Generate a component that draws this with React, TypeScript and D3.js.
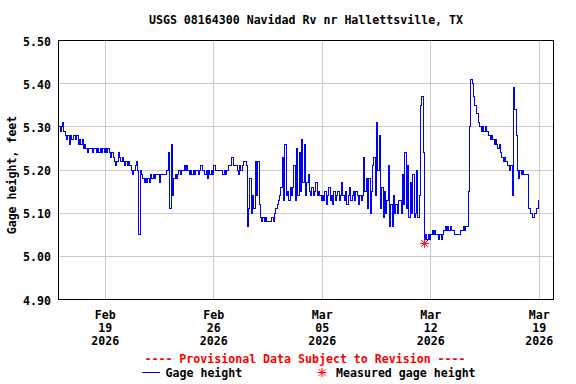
import * as d3 from "d3";

const TITLE = "USGS 08164300 Navidad Rv nr Hallettsville, TX";
const Y_LABEL = "Gage height, feet";
const PROVISIONAL = "---- Provisional Data Subject to Revision ----";
const LEGEND_LINE = "Gage height";
const LEGEND_STAR = "Measured gage height";

// gage height (ft), one reading every 2 hours starting Feb 16 2026 00:00
const START = new Date(2026, 1, 16, 0, 0);
const STEP_HOURS = 2;

const feb16to22 = [
  5.30, 5.29, 5.30, 5.31, 5.29, 5.28, 5.27, 5.28, 5.26, 5.28, 5.27, 5.28,
  5.28, 5.27, 5.28, 5.26, 5.27, 5.26, 5.27, 5.25, 5.26, 5.25, 5.24, 5.25,
  5.25, 5.25, 5.24, 5.25, 5.25, 5.24, 5.25, 5.24, 5.25, 5.24, 5.25, 5.24,
  5.25, 5.24, 5.25, 5.24, 5.23, 5.24, 5.23, 5.22, 5.21, 5.22, 5.24, 5.23,
  5.22, 5.23, 5.22, 5.21, 5.22, 5.21, 5.22, 5.21, 5.20, 5.19, 5.20, 5.21,
  5.22, 5.20, 5.05, 5.20, 5.19, 5.18, 5.17, 5.18, 5.17, 5.18, 5.17, 5.19,
  5.18, 5.19, 5.18, 5.19, 5.19, 5.19, 5.17, 5.19, 5.19, 5.19, 5.19, 5.20,
];
const feb23toMar01 = [
  5.20, 5.24, 5.11, 5.26, 5.14, 5.18, 5.19, 5.18, 5.19, 5.20, 5.19, 5.20,
  5.20, 5.21, 5.20, 5.21, 5.20, 5.19, 5.20, 5.19, 5.20, 5.19, 5.20, 5.20,
  5.19, 5.20, 5.21, 5.20, 5.20, 5.19, 5.20, 5.18, 5.20, 5.19, 5.20, 5.19,
  5.21, 5.20, 5.20, 5.20, 5.20, 5.20, 5.20, 5.19, 5.20, 5.19, 5.20, 5.21,
  5.21, 5.21, 5.23, 5.21, 5.21, 5.21, 5.20, 5.19, 5.21, 5.20, 5.21, 5.22,
  5.22, 5.21, 5.07, 5.11, 5.18, 5.10, 5.14, 5.11, 5.22, 5.14, 5.22, 5.12,
  5.09, 5.08, 5.09, 5.08, 5.09, 5.08, 5.08, 5.08, 5.08, 5.09, 5.08, 5.10,
];
const mar02to08 = [
  5.11, 5.12, 5.13, 5.14, 5.16, 5.23, 5.13, 5.26, 5.14, 5.15, 5.13, 5.16,
  5.14, 5.16, 5.21, 5.13, 5.25, 5.14, 5.24, 5.15, 5.27, 5.17, 5.26, 5.14,
  5.17, 5.19, 5.15, 5.14, 5.16, 5.14, 5.15, 5.17, 5.14, 5.15, 5.14, 5.13,
  5.14, 5.13, 5.15, 5.12, 5.14, 5.16, 5.13, 5.14, 5.12, 5.15, 5.13, 5.14,
  5.15, 5.13, 5.14, 5.17, 5.14, 5.13, 5.15, 5.12, 5.14, 5.16, 5.13, 5.14,
  5.15, 5.13, 5.15, 5.14, 5.12, 5.14, 5.13, 5.14, 5.23, 5.15, 5.18, 5.11,
  5.18, 5.10, 5.15, 5.21, 5.23, 5.14, 5.31, 5.20, 5.28, 5.11, 5.16, 5.09,
];
const mar09to15 = [
  5.15, 5.10, 5.13, 5.21, 5.07, 5.12, 5.07, 5.14, 5.10, 5.12, 5.10, 5.13,
  5.13, 5.10, 5.19, 5.12, 5.24, 5.11, 5.21, 5.09, 5.17, 5.10, 5.19, 5.09,
  5.10, 5.20, 5.09, 5.14, 5.35, 5.37, 5.24, 5.04, 5.05, 5.04, 5.05, 5.04,
  5.05, 5.06, 5.05, 5.06, 5.05, 5.05, 5.04, 5.05, 5.04, 5.05, 5.06, 5.07,
  5.06, 5.07, 5.06, 5.07, 5.06, 5.06, 5.05, 5.05, 5.05, 5.05, 5.05, 5.06,
  5.06, 5.07, 5.06, 5.07, 5.07, 5.15, 5.30, 5.41, 5.40, 5.37, 5.35, 5.33,
  5.33, 5.31, 5.30, 5.29, 5.30, 5.29, 5.30, 5.29, 5.29, 5.28, 5.27, 5.28,
];
const mar16to18 = [
  5.27, 5.26, 5.27, 5.26, 5.25, 5.26, 5.24, 5.23, 5.22, 5.23, 5.22, 5.21,
  5.21, 5.20, 5.21, 5.14, 5.39, 5.34, 5.28, 5.20, 5.18, 5.20, 5.19, 5.20,
  5.19, 5.19, 5.19, 5.19, 5.11, 5.10, 5.10, 5.09, 5.10, 5.10, 5.11, 5.13,
];

// field measurement
const measuredTimes = [new Date(2026, 2, 11, 14, 30)];
const measuredValues = [5.03];

const yTicks = [4.9, 5.0, 5.1, 5.2, 5.3, 5.4, 5.5];
const xTickDates = [
  new Date(2026, 1, 19), new Date(2026, 1, 26), new Date(2026, 2, 5),
  new Date(2026, 2, 12), new Date(2026, 2, 19),
];
const xTickMonths = ["Feb", "Feb", "Mar", "Mar", "Mar"];
const xTickDays = ["19", "26", "05", "12", "19"];
const xTickYears = ["2026", "2026", "2026", "2026", "2026"];

const FONT = "'DejaVu Sans Mono', 'Liberation Mono', monospace";

export default function App() {
  const w = 576, h = 384;
  const m = { left: 58.5, right: 553.5, top: 40.5, bottom: 299.5 };

  const x = d3.scaleTime()
    .domain([new Date(2026, 1, 15, 23, 30), new Date(2026, 2, 19, 22, 0)])
    .range([m.left, m.right]);
  const y = d3.scaleLinear().domain([4.9, 5.5]).range([m.bottom, m.top]);

  const values = [...feb16to22, ...feb23toMar01, ...mar02to08, ...mar09to15, ...mar16to18];
  const series = values.map((v, i) => ({ t: d3.timeHour.offset(START, i * STEP_HOURS), v }));

  const line = d3.line<{ t: Date; v: number }>()
    .x((d) => x(d.t))
    .y((d) => y(d.v))
    .curve(d3.curveStepAfter);

  const snap = (p: number) => Math.floor(p) + 0.5;

  const star = (cx: number, cy: number, r: number) =>
    `M${cx - r},${cy}L${cx + r},${cy}M${cx},${cy - r}L${cx},${cy + r}` +
    `M${cx - r * 0.75},${cy - r * 0.75}L${cx + r * 0.75},${cy + r * 0.75}` +
    `M${cx - r * 0.75},${cy + r * 0.75}L${cx + r * 0.75},${cy - r * 0.75}`;

  return (
    <svg
      width={w}
      height={h}
      viewBox={`0 0 ${w} ${h}`}
      style={{ position: "absolute", left: 0, top: 0, background: "#fff" }}
      fontFamily={FONT}
      fontWeight="bold"
      fontSize={11.6}
    >
      <rect width={w} height={h} fill="#fff" />
      <text x={306} y={24} textAnchor="middle">{TITLE}</text>

      {/* grid */}
      <g stroke="#cccccc" strokeWidth={1} shapeRendering="crispEdges">
        {yTicks.slice(1, -1).map((t) => (
          <line key={t} x1={m.left} x2={m.right} y1={snap(y(t))} y2={snap(y(t))} />
        ))}
        {xTickDates.map((d, i) => (
          <line key={i} x1={snap(x(d))} x2={snap(x(d))} y1={m.top} y2={m.bottom} />
        ))}
      </g>

      {/* data */}
      <path
        d={line(series) ?? ""}
        fill="none"
        stroke="#0000ff"
        strokeWidth={1}
        shapeRendering="crispEdges"
      />

      {measuredTimes.map((t, i) => (
        <path
          key={i}
          d={star(x(t), y(measuredValues[i]), 4.5)}
          stroke="#ff0000"
          strokeWidth={1}
          fill="none"
        />
      ))}

      <rect
        x={m.left}
        y={m.top}
        width={m.right - m.left}
        height={m.bottom - m.top}
        fill="none"
        stroke="#000"
        strokeWidth={1}
        shapeRendering="crispEdges"
      />

      {/* y axis */}
      {yTicks.map((t) => (
        <text key={t} x={51} y={y(t) + 5} textAnchor="end">{t.toFixed(2)}</text>
      ))}
      <text transform="translate(16,175) rotate(-90)" textAnchor="middle">{Y_LABEL}</text>

      {/* x axis */}
      {xTickDates.map((d, i) => (
        <g key={i} transform={`translate(${x(d)},0)`} textAnchor="middle">
          <text y={318.5}>{xTickMonths[i]}</text>
          <text y={331.5}>{xTickDays[i]}</text>
          <text y={344.5}>{xTickYears[i]}</text>
        </g>
      ))}

      <text x={305} y={363} textAnchor="middle" fill="#ff0000">{PROVISIONAL}</text>

      {/* legend */}
      <line x1={142} x2={160} y1={372.5} y2={372.5} stroke="#0000ff" strokeWidth={1} shapeRendering="crispEdges" />
      <text x={165.5} y={377}>{LEGEND_LINE}</text>
      <path d={star(322, 372.5, 4.5)} stroke="#ff0000" strokeWidth={1} fill="none" />
      <text x={336} y={377}>{LEGEND_STAR}</text>
    </svg>
  );
}
